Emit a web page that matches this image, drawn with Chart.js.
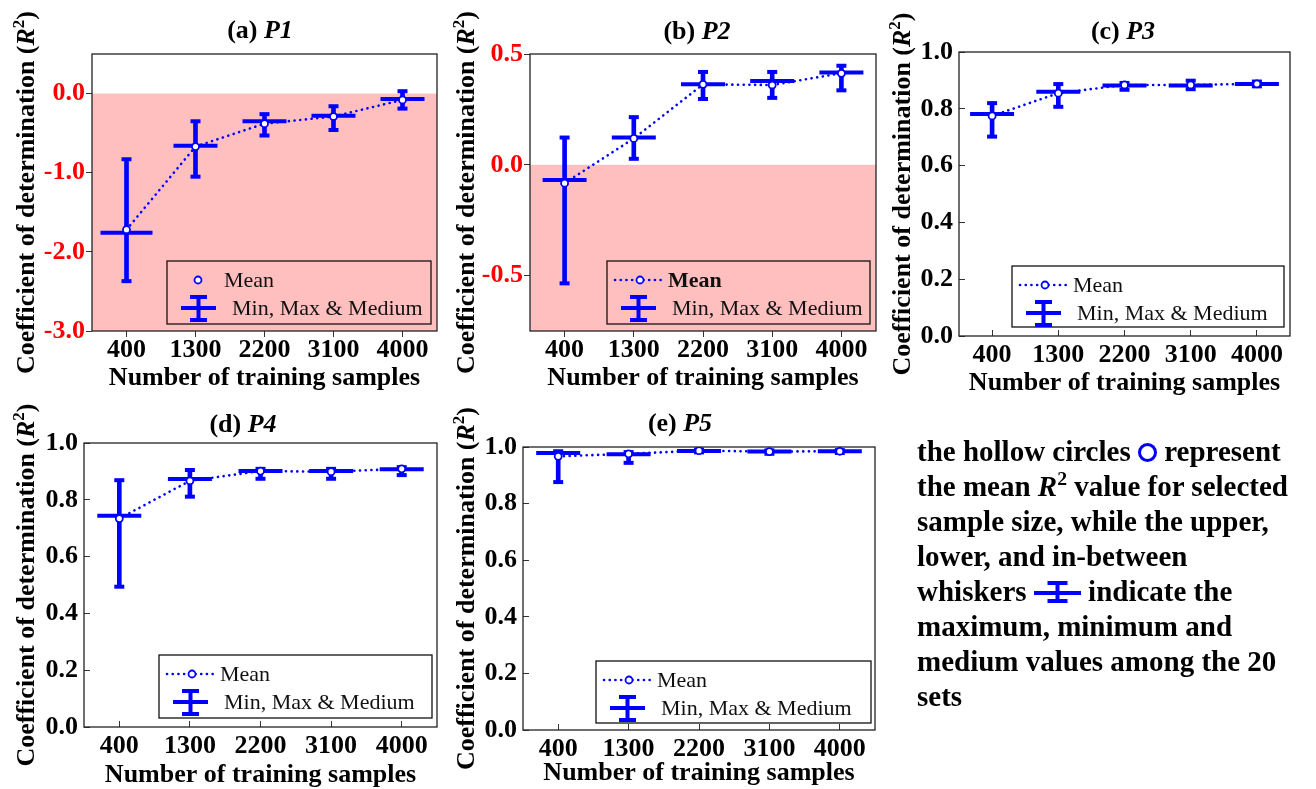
<!DOCTYPE html>
<html>
<head>
<meta charset="utf-8">
<title>R² versus number of training samples</title>
<script src="https://cdn.jsdelivr.net/npm/chart.js@4.4.0/dist/chart.umd.min.js"></script>
<style>
  html, body { margin: 0; padding: 0; background: #fff; }
  #stage { position: relative; width: 1316px; height: 789px; overflow: hidden; background: #fff; }
  #stage canvas { position: absolute; left: 0; top: 0; }
  #note {
    position: absolute; left: 917px; top: 434px;
    font: bold 29px 'Liberation Serif', 'Times New Roman', serif;
    line-height: 35px; color: #000; white-space: nowrap;
  }
  #note .ring {
    display: inline-block; width: 13px; height: 13px;
    border: 3.5px solid #0000ff; border-radius: 50%;
    vertical-align: -1px;
  }
  #note .sup { font-size: 0.68em; vertical-align: 0.55em; line-height: 0; }
  #note svg { vertical-align: -2px; }
</style>
</head>
<body>
<div id="stage">
  <div id="note">the hollow circles <span class="ring"></span> represent<br>the mean <i>R</i><span class="sup">2</span> value for selected<br>sample size, while the upper,<br>lower, and in-between<br>whiskers <svg width="47" height="22" viewBox="0 0 47 22"><g stroke="#0000ff" stroke-width="4"><line x1="0" y1="12" x2="47" y2="12"/><line x1="23.5" y1="2" x2="23.5" y2="20"/><line x1="13.5" y1="2" x2="33.5" y2="2"/><line x1="13.5" y1="20" x2="33.5" y2="20"/></g></svg> indicate the<br>maximum, minimum and<br>medium values among the 20<br>sets</div>
</div>
<script>
// Training-set sizes on the x axis
const sampleSizes = ['400', '1300', '2200', '3100', '4000'];

// P1: R² statistics over the 20 sets
const p1Mean   = [-1.72, -0.67, -0.38, -0.29, -0.08];
const p1Min    = [-2.37, -1.05, -0.53, -0.46, -0.19];
const p1Max    = [-0.83, -0.35, -0.26, -0.16, 0.03];
const p1Median = [-1.76, -0.66, -0.35, -0.28, -0.07];

// P2
const p2Mean   = [-0.083, 0.119, 0.363, 0.360, 0.413];
const p2Min    = [-0.535, 0.027, 0.297, 0.302, 0.336];
const p2Max    = [0.123, 0.215, 0.419, 0.419, 0.447];
const p2Median = [-0.069, 0.123, 0.363, 0.378, 0.417];

// P3
const p3Mean   = [0.775, 0.855, 0.884, 0.884, 0.888];
const p3Min    = [0.702, 0.807, 0.867, 0.869, 0.879];
const p3Max    = [0.820, 0.887, 0.891, 0.899, 0.896];
const p3Median = [0.782, 0.860, 0.882, 0.882, 0.887];

// P4
const p4Mean   = [0.734, 0.867, 0.901, 0.899, 0.909];
const p4Min    = [0.494, 0.811, 0.874, 0.874, 0.887];
const p4Max    = [0.869, 0.905, 0.909, 0.909, 0.915];
const p4Median = [0.744, 0.873, 0.901, 0.901, 0.908];

// P5
const p5Mean   = [0.967, 0.976, 0.987, 0.984, 0.985];
const p5Min    = [0.876, 0.944, 0.981, 0.976, 0.979];
const p5Max    = [0.985, 0.982, 0.991, 0.988, 0.989];
const p5Median = [0.979, 0.974, 0.986, 0.984, 0.985];

// y-axis tick values
const p1Ticks   = [-3, -2, -1, 0];
const p2Ticks   = [-0.5, 0, 0.5];
const unitTicks = [0, 0.2, 0.4, 0.6, 0.8, 1.0];

const BLUE = '#0000ff';
const PINK = '#ffbfbf';
const FONT = "'Liberation Serif', 'Times New Roman', serif";
const W = 1316, H = 789;

const panels = [
  { tag: '(a) ', name: 'P1', mean: p1Mean, min: p1Min, max: p1Max, median: p1Median,
    ticks: p1Ticks, yMin: -3, yMax: 0.5, shadeNegative: true, tickColor: '#ff0000', tickDir: 'out',
    area: { l: 92, r: 437, t: 54, b: 331 }, titleX: 260, titleY: 29, yTitleX: 25, xTitleY: 376,
    medianHalf: [26, 22, 22, 22, 22],
    legend: { w: 264, h: 63, dr: 6, db: 7, meanLine: false, meanBold: false } },
  { tag: '(b) ', name: 'P2', mean: p2Mean, min: p2Min, max: p2Max, median: p2Median,
    ticks: p2Ticks, yMin: -0.75, yMax: 0.5, shadeNegative: true, tickColor: '#ff0000', tickDir: 'out',
    area: { l: 530, r: 876, t: 54, b: 331 }, titleX: 697, titleY: 30, yTitleX: 465, xTitleY: 376,
    medianHalf: 22,
    legend: { w: 263, h: 63, dr: 6, db: 7, meanLine: true, meanBold: true } },
  { tag: '(c) ', name: 'P3', mean: p3Mean, min: p3Min, max: p3Max, median: p3Median,
    ticks: unitTicks, yMin: 0, yMax: 1, shadeNegative: false, tickColor: '#000', tickDir: 'in',
    area: { l: 959, r: 1311, t: 52, b: 336 }, titleX: 1123, titleY: 30, yTitleX: 901, xTitleY: 381,
    medianHalf: 22,
    legend: { w: 272, h: 61, dr: 6, db: 9, meanLine: true, meanBold: false } },
  { tag: '(d) ', name: 'P4', mean: p4Mean, min: p4Min, max: p4Max, median: p4Median,
    ticks: unitTicks, yMin: 0, yMax: 1, shadeNegative: false, tickColor: '#000', tickDir: 'in',
    area: { l: 84, r: 437, t: 443, b: 727 }, titleX: 243, titleY: 423, yTitleX: 25, xTitleY: 773,
    medianHalf: 22,
    legend: { w: 273, h: 63, dr: 5, db: 9, meanLine: true, meanBold: false } },
  { tag: '(e) ', name: 'P5', mean: p5Mean, min: p5Min, max: p5Max, median: p5Median,
    ticks: unitTicks, yMin: 0, yMax: 1, shadeNegative: false, tickColor: '#000', tickDir: 'in',
    area: { l: 523, r: 875, t: 447, b: 730 }, titleX: 680, titleY: 422, yTitleX: 465, xTitleY: 771,
    medianHalf: 22,
    legend: { w: 275, h: 62, dr: 4, db: 7, meanLine: true, meanBold: false } }
];

// Draw a run of differently styled text pieces centred on cx, baseline at y
function drawRuns(ctx, runs, cx, y) {
  let total = 0;
  runs.forEach(r => { ctx.font = r.font; r.w = ctx.measureText(r.text).width; total += r.w; });
  let x = cx - total / 2;
  ctx.textAlign = 'left';
  ctx.textBaseline = 'alphabetic';
  runs.forEach(r => { ctx.font = r.font; ctx.fillText(r.text, x, y + (r.dy || 0)); x += r.w; });
}

function drawWhiskerGlyph(ctx, cx, cy, half, capHalf, up, down) {
  ctx.beginPath();
  ctx.moveTo(cx - half, cy); ctx.lineTo(cx + half, cy);
  ctx.moveTo(cx, cy - up); ctx.lineTo(cx, cy + down);
  ctx.moveTo(cx - capHalf, cy - up); ctx.lineTo(cx + capHalf, cy - up);
  ctx.moveTo(cx - capHalf, cy + down); ctx.lineTo(cx + capHalf, cy + down);
  ctx.stroke();
}

function makeDecor(p) {
  return {
    id: 'panelDecor',
    beforeDraw(chart) {
      if (!p.shadeNegative) return;
      const { ctx, chartArea: ca, scales: { y } } = chart;
      const y0 = y.getPixelForValue(0);
      ctx.save();
      ctx.fillStyle = PINK;
      ctx.fillRect(ca.left, y0, ca.right - ca.left, ca.bottom - y0);
      ctx.restore();
    },
    afterDraw(chart) {
      const { ctx, chartArea: ca } = chart;
      ctx.save();
      // frame round the plotting area
      ctx.strokeStyle = '#222';
      ctx.lineWidth = 1.3;
      ctx.strokeRect(ca.left, ca.top, ca.right - ca.left, ca.bottom - ca.top);

      // legend box
      const L = p.legend;
      const x0 = ca.right - L.dr - L.w, y0 = ca.bottom - L.db - L.h;
      ctx.strokeStyle = '#111';
      ctx.lineWidth = 1.3;
      ctx.strokeRect(x0, y0, L.w, L.h);
      const r1 = y0 + 19, r2 = y0 + 47;
      const meanSet = chart.data.datasets[0];
      const rangeSet = chart.data.datasets[4];
      ctx.strokeStyle = BLUE;
      if (L.meanLine) {
        ctx.lineWidth = 2.6;
        ctx.lineCap = 'round';
        ctx.setLineDash([0.1, 5.6]);
        ctx.beginPath(); ctx.moveTo(x0 + 8, r1); ctx.lineTo(x0 + 56, r1); ctx.stroke();
        ctx.setLineDash([]);
        ctx.lineCap = 'butt';
      }
      const cx = L.meanLine ? x0 + 33 : x0 + 31;
      ctx.fillStyle = '#fff';
      ctx.lineWidth = 1.8;
      ctx.beginPath(); ctx.arc(cx, r1, 3.5, 0, Math.PI * 2); ctx.fill(); ctx.stroke();
      ctx.fillStyle = '#111';
      ctx.textAlign = 'left';
      ctx.textBaseline = 'middle';
      ctx.font = (L.meanBold ? 'bold ' : '') + '22px ' + FONT;
      ctx.fillText(meanSet.label, L.meanLine ? x0 + 61 : x0 + 57, r1 + 1);
      ctx.strokeStyle = BLUE;
      ctx.lineWidth = 4;
      drawWhiskerGlyph(ctx, x0 + 31.5, r2, 17.5, 8.5, 11, 12);
      ctx.fillStyle = '#111';
      ctx.font = '22px ' + FONT;
      ctx.fillText(rangeSet.label, x0 + 65, r2 + 1);

      // panel title
      ctx.fillStyle = '#000';
      drawRuns(ctx, [
        { text: p.tag, font: 'bold 26px ' + FONT },
        { text: p.name, font: 'italic bold 26px ' + FONT }
      ], p.titleX, p.titleY + 9);

      // x-axis title
      drawRuns(ctx, [{ text: 'Number of training samples', font: 'bold 26px ' + FONT }],
        (ca.left + ca.right) / 2, p.xTitleY + 9);

      // y-axis title, rotated
      ctx.save();
      ctx.translate(p.yTitleX, (ca.top + ca.bottom) / 2);
      ctx.rotate(-Math.PI / 2);
      drawRuns(ctx, [
        { text: 'Coefficient of determination (', font: 'bold 26px ' + FONT },
        { text: 'R', font: 'italic bold 26px ' + FONT },
        { text: '2', font: 'bold 17px ' + FONT, dy: -10 },
        { text: ')', font: 'bold 26px ' + FONT }
      ], 0, 9);
      ctx.restore();
      ctx.restore();
    }
  };
}

const stage = document.getElementById('stage');
const AXW = 60, AXH = 60;

panels.forEach(p => {
  const canvas = document.createElement('canvas');
  canvas.width = W; canvas.height = H;
  stage.insertBefore(canvas, document.getElementById('note'));
  const inward = p.tickDir === 'in';
  const tl = inward ? -6 : 6;
  const tickFont = { family: FONT, size: 26, weight: 'bold' };
  const gridOpts = { offset: false, drawOnChartArea: false, drawTicks: true, tickLength: tl, color: '#333', lineWidth: 1 };

  new Chart(canvas, {
    type: 'bar',
    data: {
      labels: sampleSizes,
      datasets: [
        { type: 'line', label: 'Mean', data: p.mean, order: 0,
          borderColor: BLUE, borderWidth: 2.6, borderDash: [0.1, 5.6], borderCapStyle: 'round',
          pointRadius: 3.5, pointBorderWidth: 1.8, pointBackgroundColor: '#fff', pointBorderColor: BLUE,
          tension: 0, fill: false },
        { type: 'line', label: 'Medium', data: p.median, order: 1, showLine: false,
          pointStyle: 'line', pointRadius: p.medianHalf, pointBorderWidth: 4, pointBorderColor: BLUE },
        { type: 'line', label: 'Max', data: p.max, order: 2, showLine: false,
          pointStyle: 'line', pointRadius: 5, pointBorderWidth: 4, pointBorderColor: BLUE },
        { type: 'line', label: 'Min', data: p.min, order: 2, showLine: false,
          pointStyle: 'line', pointRadius: 5, pointBorderWidth: 4, pointBorderColor: BLUE },
        { type: 'bar', label: 'Min, Max & Medium', data: p.min.map((v, i) => [v, p.max[i]]), order: 3,
          backgroundColor: BLUE, borderWidth: 0, barThickness: 4 }
      ]
    },
    options: {
      responsive: false,
      animation: false,
      events: [],
      layout: { padding: { left: p.area.l - AXW, right: W - p.area.r, top: p.area.t, bottom: H - p.area.b - AXH } },
      plugins: { legend: { display: false }, tooltip: { enabled: false }, title: { display: false } },
      scales: {
        x: {
          type: 'category', offset: true,
          grid: gridOpts, border: { display: false },
          ticks: { color: '#000', font: tickFont, padding: inward ? 10 : -2, maxRotation: 0, autoSkip: false },
          afterFit: s => { s.height = AXH; }
        },
        y: {
          type: 'linear', min: p.yMin, max: p.yMax,
          grid: gridOpts, border: { display: false },
          ticks: { color: p.tickColor, font: tickFont, padding: inward ? 12 : 1, callback: v => Number(v).toFixed(1) },
          afterBuildTicks: s => { s.ticks = p.ticks.map(v => ({ value: v })); },
          afterFit: s => { s.width = AXW; }
        }
      }
    },
    plugins: [makeDecor(p)]
  });
});
</script>
</body>
</html>
